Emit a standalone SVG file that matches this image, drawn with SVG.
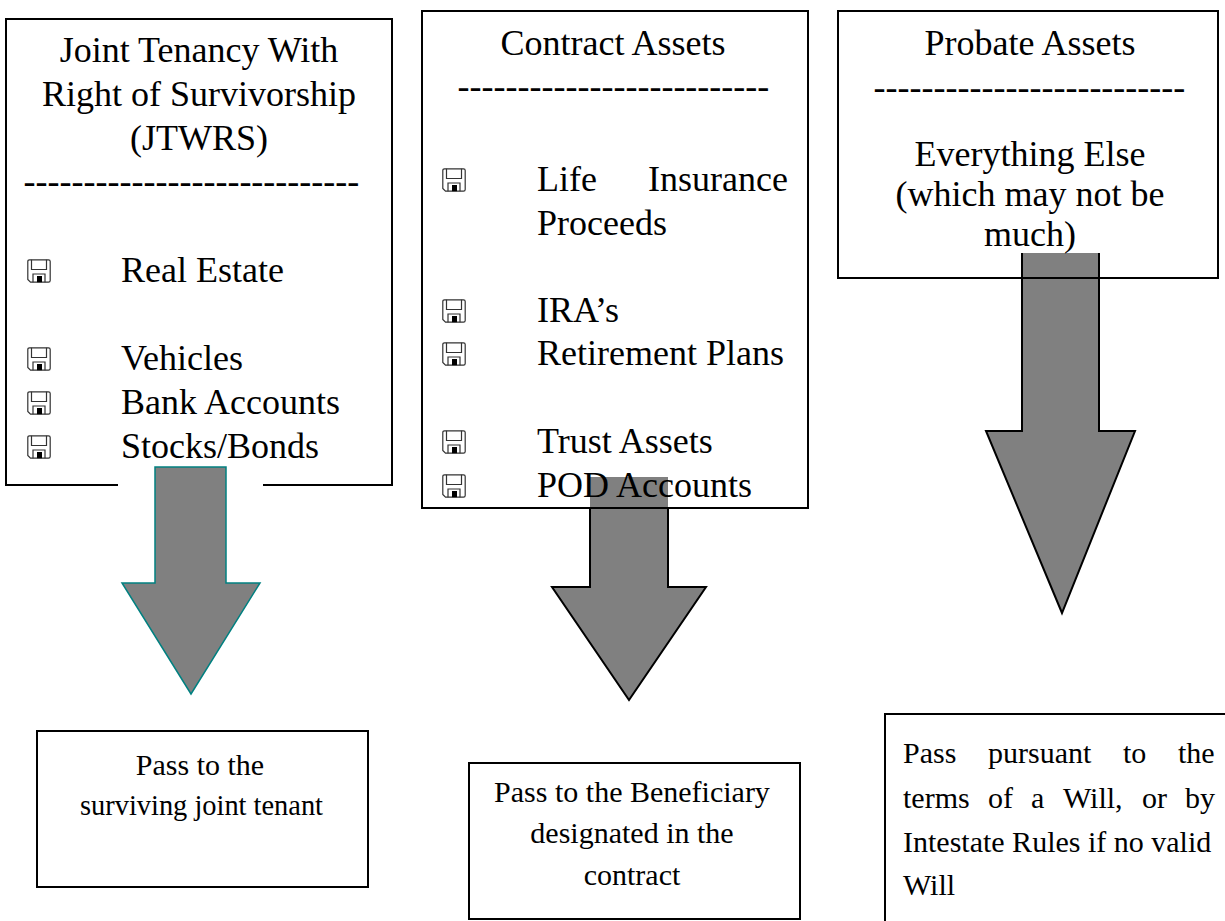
<svg xmlns="http://www.w3.org/2000/svg" xmlns:xlink="http://www.w3.org/1999/xlink" width="1225" height="921" viewBox="0 0 1225 921">
<style>
  text { font-family: "Liberation Serif", "Times New Roman", serif; fill: #000; }
  .t36 { font-size: 36px; }
  .t30 { font-size: 30px; }
  .mid { text-anchor: middle; }
  .box { fill: none; stroke: #000; stroke-width: 2; }
  .arrfill { fill: #808080; stroke: none; }
  .arrline { fill: none; stroke: #000; stroke-width: 2; stroke-linejoin: miter; }
</style>
<defs>
  <symbol id="floppy" viewBox="0 0 24 24">
    <path d="M2.5 0.8 H21.5 Q23.2 0.8 23.2 2.5 V21.5 Q23.2 23.2 21.5 23.2 H3.5 L0.8 20.5 V2.5 Q0.8 0.8 2.5 0.8 Z" fill="#fff" stroke="#333" stroke-width="1.2"/>
    <path d="M4.5 0.8 V10.5 H19.5 V0.8" fill="none" stroke="#333" stroke-width="1.2"/>
    <path d="M6 23.2 V15 H18 V23.2" fill="none" stroke="#333" stroke-width="1.2"/>
    <rect x="10" y="17" width="5" height="6.2" fill="#000"/>
  </symbol>
</defs>
<rect width="1225" height="921" fill="#fff"/>

<g id="connectors">
  <g id="arrow-jtwrs">
    <polygon points="155,467 226,467 226,583 260,583 191,694 122,583 155,583" fill="#808080" stroke="#008080" stroke-width="1.5" stroke-linejoin="miter"/>
  </g>
  <g id="arrow-contract">
    <polygon class="arrfill" points="590,477 668,477 668,587 706,587 629,700 552,587 590,587"/>
    <polyline class="arrline" points="590,508 590,587 552,587 629,700 706,587 668,587 668,508"/>
  </g>
  <g id="arrow-probate">
    <polygon class="arrfill" points="1022,253 1099,253 1099,431 1135,431 1062,613 986,431 1022,431"/>
    <polyline class="arrline" points="1022,253 1022,431 986,431 1062,613 1135,431 1099,431 1099,253"/>
  </g>
</g>

<g id="node-jtwrs">
  <path class="box" d="M118,485 H6 V19 H392 V485 H263"/>
  <text class="t36 mid" x="199" y="62">Joint Tenancy With</text>
  <text class="t36 mid" x="199" y="106">Right of Survivorship</text>
  <text class="t36 mid" x="199" y="150">(JTWRS)</text>
  <text class="t36" x="23.6" y="193">----------------------------</text>
  <use xlink:href="#floppy" href="#floppy" x="27" y="259" width="24" height="24"/>
  <text class="t36" x="121" y="282">Real Estate</text>
  <use xlink:href="#floppy" href="#floppy" x="27" y="347" width="24" height="24"/>
  <text class="t36" x="121" y="370">Vehicles</text>
  <use xlink:href="#floppy" href="#floppy" x="27" y="391" width="24" height="24"/>
  <text class="t36" x="121" y="414">Bank Accounts</text>
  <use xlink:href="#floppy" href="#floppy" x="27" y="435" width="24" height="24"/>
  <text class="t36" x="121" y="458">Stocks/Bonds</text>
</g>

<g id="node-contract">
  <rect class="box" x="422" y="11" width="386" height="497"/>
  <text class="t36 mid" x="613" y="55">Contract Assets</text>
  <text class="t36" x="457.6" y="98">--------------------------</text>
  <use xlink:href="#floppy" href="#floppy" x="442" y="168" width="24" height="24"/>
  <text class="t36" x="537" y="191">Life</text>
  <text class="t36" x="648" y="191">Insurance</text>
  <text class="t36" x="537" y="235">Proceeds</text>
  <use xlink:href="#floppy" href="#floppy" x="442" y="299" width="24" height="24"/>
  <text class="t36" x="537" y="322">IRA’s</text>
  <use xlink:href="#floppy" href="#floppy" x="442" y="342" width="24" height="24"/>
  <text class="t36" x="537" y="365">Retirement Plans</text>
  <use xlink:href="#floppy" href="#floppy" x="442" y="430" width="24" height="24"/>
  <text class="t36" x="537" y="453">Trust Assets</text>
  <use xlink:href="#floppy" href="#floppy" x="442" y="474" width="24" height="24"/>
  <text class="t36" x="537" y="497">POD Accounts</text>
</g>

<g id="node-probate">
  <rect class="box" x="838" y="11" width="380" height="267"/>
  <text class="t36 mid" x="1030" y="55">Probate Assets</text>
  <text class="t36" x="873.6" y="99">--------------------------</text>
  <text class="t36 mid" x="1030" y="166">Everything Else</text>
  <text class="t36 mid" x="1030" y="206">(which may not be</text>
  <text class="t36 mid" x="1030" y="246">much)</text>
</g>

<g id="node-survivor">
  <rect class="box" x="37" y="731" width="331" height="156"/>
  <text class="t30 mid" x="200" y="775">Pass to the</text>
  <text class="t30" x="80" y="815" textLength="243" lengthAdjust="spacingAndGlyphs">surviving joint tenant</text>
</g>

<g id="node-beneficiary">
  <rect class="box" x="469" y="763" width="331" height="156"/>
  <text class="t30 mid" x="632" y="802">Pass to the Beneficiary</text>
  <text class="t30 mid" x="632" y="843">designated in the</text>
  <text class="t30 mid" x="632" y="885">contract</text>
</g>

<g id="node-will">
  <rect class="box" x="885" y="714" width="360" height="240"/>
  <text class="t30" y="763"><tspan x="903">Pass</tspan><tspan x="988">pursuant</tspan><tspan x="1123">to</tspan><tspan x="1178">the</tspan></text>
  <text class="t30" y="808"><tspan x="903">terms</tspan><tspan x="988">of</tspan><tspan x="1031">a</tspan><tspan x="1063">Will,</tspan><tspan x="1142">or</tspan><tspan x="1185">by</tspan></text>
  <text class="t30" x="903" y="852">Intestate Rules if no valid</text>
  <text class="t30" x="903" y="895">Will</text>
</g>
</svg>
